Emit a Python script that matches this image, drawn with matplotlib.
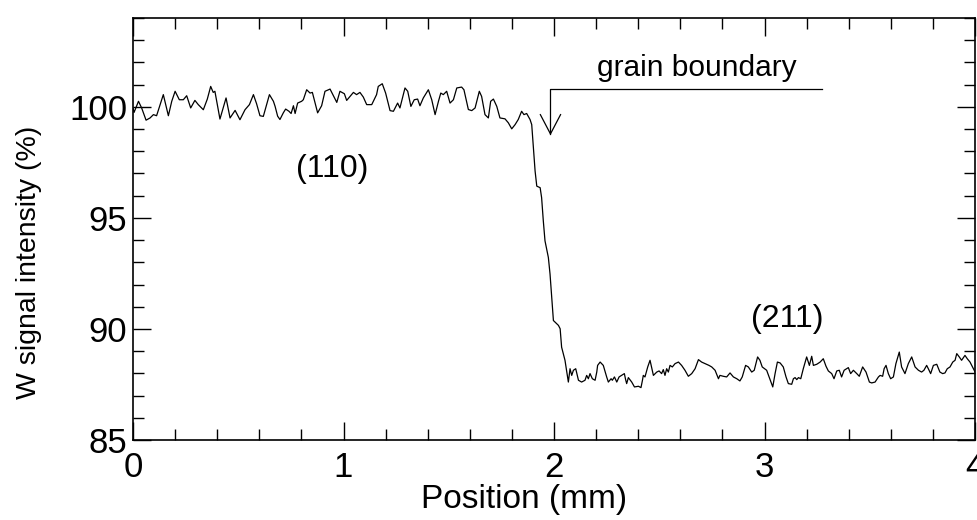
import matplotlib
matplotlib.use("Agg")
import matplotlib.pyplot as plt
from matplotlib.ticker import MultipleLocator

plt.rcParams['font.family'] = ['Liberation Sans', 'DejaVu Sans']

# Line scan across the grain boundary
position_110 = [0.000, 0.005, 0.010, 0.026, 0.041, 0.062, 0.081, 0.097, 0.112, 0.144,
                0.168, 0.184, 0.200, 0.220, 0.239, 0.255, 0.274, 0.294, 0.310, 0.334,
                0.353, 0.369, 0.381, 0.389, 0.413, 0.442, 0.461, 0.485, 0.508, 0.532,
                0.553, 0.572, 0.587, 0.603, 0.619, 0.648, 0.667, 0.675, 0.687, 0.698,
                0.714, 0.725, 0.741, 0.751, 0.762, 0.770, 0.782, 0.801, 0.809, 0.825,
                0.841, 0.852, 0.877, 0.896, 0.912, 0.936, 0.947, 0.968, 0.983, 1.004,
                1.015, 1.031, 1.047, 1.062, 1.078, 1.094, 1.110, 1.134, 1.157, 1.165,
                1.184, 1.200, 1.221, 1.237, 1.257, 1.268, 1.292, 1.305, 1.320, 1.336,
                1.352, 1.363, 1.379, 1.403, 1.419, 1.435, 1.451, 1.462, 1.474, 1.490,
                1.506, 1.522, 1.538, 1.561, 1.572, 1.593, 1.609, 1.625, 1.645, 1.656,
                1.672, 1.688, 1.699, 1.712, 1.728, 1.743, 1.767, 1.783, 1.799, 1.815,
                1.830, 1.846, 1.857, 1.870, 1.886]
signal_110 = [99.95, 99.75, 99.87, 100.25, 99.95, 99.40, 99.50, 99.65, 99.60, 100.55,
              99.60, 100.25, 100.70, 100.32, 100.32, 100.50, 99.95, 100.29, 100.10, 99.87,
              100.35, 100.92, 100.65, 100.70, 99.45, 100.40, 99.50, 99.84, 99.42, 99.87,
              100.10, 100.55, 100.14, 99.60, 99.57, 100.55, 100.25, 100.02, 99.58, 99.43,
              99.73, 99.90, 99.80, 99.70, 100.05, 99.70, 100.17, 100.25, 100.32, 100.77,
              100.62, 100.65, 99.73, 100.05, 100.70, 100.80, 100.59, 100.20, 100.70, 100.59,
              100.29, 100.47, 100.65, 100.55, 100.65, 100.44, 100.10, 100.10, 100.55, 100.92,
              101.04, 100.62, 99.83, 99.80, 100.17, 99.95, 100.85, 100.70, 100.02, 100.32,
              100.35, 100.05, 100.40, 100.77, 100.32, 99.65, 100.25, 100.62, 100.55, 100.70,
              100.17, 100.32, 100.85, 100.89, 100.77, 99.88, 99.83, 99.95, 100.70, 100.47,
              99.65, 99.50, 100.25, 100.35, 100.02, 99.50, 99.46, 99.28, 99.01, 99.20,
              99.43, 99.80, 99.65, 99.70, 99.43]

position_drop = [1.894, 1.902, 1.910, 1.918, 1.934, 1.941, 1.949, 1.957, 1.973, 1.981,
                 1.989, 1.997, 2.021, 2.029, 2.036]
signal_drop = [99.20, 98.15, 97.11, 96.43, 96.36, 95.91, 94.87, 93.97, 93.22, 92.47,
               91.43, 90.38, 90.16, 90.01, 89.18]

position_211 = [2.052, 2.068, 2.076, 2.084, 2.092, 2.103, 2.116, 2.131, 2.147, 2.155,
                2.163, 2.171, 2.182, 2.195, 2.203, 2.207, 2.219, 2.234, 2.250, 2.258,
                2.271, 2.277, 2.287, 2.298, 2.309, 2.321, 2.334, 2.340, 2.345, 2.353,
                2.369, 2.382, 2.401, 2.413, 2.420, 2.424, 2.432, 2.445, 2.456, 2.472,
                2.488, 2.499, 2.511, 2.519, 2.527, 2.535, 2.543, 2.551, 2.562, 2.575,
                2.591, 2.606, 2.622, 2.638, 2.654, 2.670, 2.686, 2.701, 2.717, 2.736,
                2.749, 2.765, 2.781, 2.788, 2.804, 2.820, 2.836, 2.852, 2.868, 2.883,
                2.894, 2.910, 2.923, 2.939, 2.951, 2.967, 2.978, 2.989, 3.010, 3.026,
                3.039, 3.050, 3.061, 3.074, 3.089, 3.102, 3.113, 3.129, 3.137, 3.145,
                3.153, 3.161, 3.172, 3.184, 3.200, 3.213, 3.224, 3.232, 3.248, 3.264,
                3.279, 3.292, 3.303, 3.319, 3.330, 3.343, 3.355, 3.366, 3.378, 3.390,
                3.398, 3.409, 3.422, 3.438, 3.450, 3.466, 3.482, 3.498, 3.509, 3.525,
                3.541, 3.549, 3.561, 3.568, 3.577, 3.588, 3.599, 3.612, 3.624, 3.640,
                3.651, 3.667, 3.683, 3.699, 3.715, 3.731, 3.746, 3.757, 3.770, 3.778,
                3.789, 3.802, 3.818, 3.833, 3.846, 3.857, 3.868, 3.881, 3.894, 3.905,
                3.913, 3.925, 3.936, 3.952, 3.963, 3.976, 3.992, 4.004]
signal_211 = [88.59, 87.61, 88.21, 87.91, 88.14, 88.21, 87.69, 87.61, 87.69, 87.91,
              87.76, 87.99, 87.76, 87.69, 88.06, 88.36, 88.51, 88.36, 87.84, 87.61,
              87.76, 87.69, 87.84, 87.61, 87.84, 87.91, 87.99, 87.72, 87.54, 87.81,
              87.61, 87.39, 87.42, 87.36, 87.69, 87.91, 87.84, 88.29, 88.59, 87.91,
              88.06, 88.11, 87.99, 88.17, 87.91, 88.21, 88.06, 88.36, 88.29, 88.44,
              88.51, 88.36, 88.14, 87.87, 87.99, 88.21, 88.62, 88.51, 88.44, 88.36,
              88.29, 88.14, 87.76, 87.91, 87.87, 87.84, 88.02, 87.84, 87.76, 87.66,
              87.84, 88.36, 88.29, 88.06, 88.14, 88.74, 88.59, 88.29, 88.14, 87.72,
              87.39, 87.99, 88.51, 88.47, 88.29, 87.84, 87.54, 87.51, 87.76, 87.81,
              87.72, 87.81, 87.76, 88.21, 88.74, 88.36, 88.77, 88.36, 88.41, 88.51,
              88.66, 88.32, 88.11, 87.99, 87.76, 88.11, 88.14, 87.84, 88.14, 88.21,
              88.26, 87.99, 88.14, 87.99, 87.87, 88.29, 88.06, 87.61, 87.57, 87.61,
              87.84, 87.91, 87.87, 88.21, 88.36, 87.99, 87.76, 87.84, 88.44, 88.96,
              88.29, 87.99, 88.44, 88.74, 88.29, 88.14, 88.06, 88.14, 88.36, 88.21,
              87.99, 88.36, 88.41, 88.06, 87.99, 88.02, 88.21, 88.29, 88.51, 88.59,
              88.89, 88.74, 88.59, 88.81, 88.66, 88.51, 88.21, 87.99]

position = position_110 + position_drop + position_211
signal = signal_110 + signal_drop + signal_211

# grain boundary marker (arrow + leader line), in data units
gb_x = 1.983
gb_top = 100.8
gb_tip = 98.78
gb_end = 3.273
head_dx = 0.048
head_y = 99.65

fig = plt.figure(figsize=(9.78, 5.2), dpi=100)
ax = fig.add_axes([0.136, 0.1538, 0.861, 0.8116])

ax.plot(position, signal, color='black', lw=0.9)

# arrow pointing at the boundary
ax.plot([gb_end, gb_x, gb_x], [gb_top, gb_top, gb_tip], color='black', lw=0.9)
ax.plot([gb_x - head_dx, gb_x, gb_x + head_dx], [head_y, gb_tip, head_y], color='black', lw=0.9)

ax.text(2.68, 101.77, 'grain boundary', fontsize=21.5, ha='center', va='center')
ax.text(0.945, 97.2, '(110)', fontsize=23, ha='center', va='center')
ax.text(3.11, 90.47, '(211)', fontsize=23, ha='center', va='center')

ax.set_xlim(0, 4)
ax.set_ylim(85, 104)
ax.xaxis.set_major_locator(MultipleLocator(1))
ax.xaxis.set_minor_locator(MultipleLocator(0.2))
ax.yaxis.set_major_locator(MultipleLocator(5))
ax.yaxis.set_minor_locator(MultipleLocator(1))
ax.tick_params(which='both', direction='in', top=True, right=True, width=1, labelsize=25)
ax.tick_params(which='major', length=13)
ax.tick_params(axis='x', which='major', pad=8)
ax.tick_params(axis='y', which='major', pad=4)
ax.tick_params(which='minor', length=8)
for s in ax.spines.values():
    s.set_linewidth(1.2)

ax.set_xlabel('Position (mm)', fontsize=24)
ax.set_ylabel('W signal intensity (%)', fontsize=20.5)
ax.xaxis.set_label_coords(0.464, -0.104)
ax.yaxis.set_label_coords(-0.108, 0.42)

fig.savefig('out.png', dpi=100)
